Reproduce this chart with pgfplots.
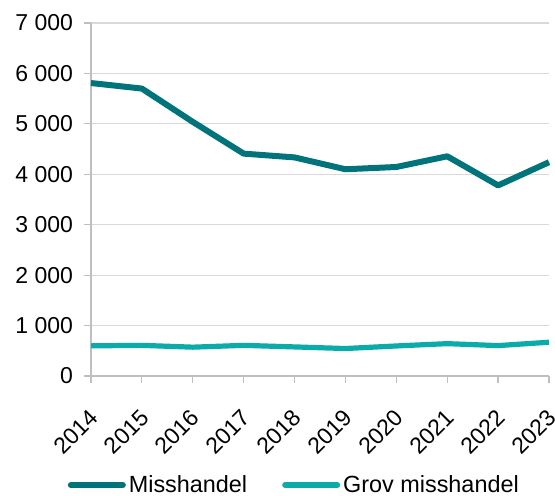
\documentclass[border=0pt]{standalone}
\usepackage{pgfplots}
\pgfplotsset{compat=1.18}
\usepackage{fontspec}
\setmainfont{Liberation Sans}
\definecolor{mish}{HTML}{00747A}
\definecolor{grov}{HTML}{0AABA8}
\definecolor{gridc}{HTML}{D9D9D9}
\definecolor{axc}{HTML}{BFBFBF}
\begin{document}
\begin{tikzpicture}
\useasboundingbox (-45.5pt,-59.5pt) rectangle (232pt,188pt);
\begin{axis}[
  at={(0,0)}, anchor=south west,
  width=229pt, height=176.5pt, scale only axis,
  xmin=2014, xmax=2023,
  ymin=0, ymax=7000,
  xtick={2014,...,2023},
  ytick={0,1000,...,7000},
  font=\fontsize{11.5pt}{13pt}\selectfont,
  /pgf/number format/assume math mode=true,
  % shifts act in the rotated frame
  x tick label style={/pgf/number format/1000 sep={}, rotate=45, anchor=east, xshift=-8.7pt, yshift=-11.8pt, inner sep=1pt},
  y tick label style={/pgf/number format/1000 sep={\ }, xshift=-2pt},
  axis x line*=bottom, axis y line*=left,
  axis line style={axc, line width=0.6pt, -},
  tick style={axc, line width=0.6pt},
  tick align=outside, major tick length=3.5pt,
  ymajorgrids, grid style={gridc, line width=0.6pt},
  legend columns=2,
  legend style={draw=none, at={(0.445,-0.309)}, anchor=center, font=\fontsize{11.7pt}{13pt}\selectfont,
    /tikz/every even column/.append style={column sep=16pt}, inner sep=0pt,
    nodes={inner sep=1.5pt}},
  legend cell align=left,
  legend image code/.code={\draw[#1, line width=3pt, line cap=round] (0pt,0pt) -- (26pt,0pt);},
  clip=false,
]
\addplot[mish, line width=3pt, line join=round] coordinates {
  (2014,5810) (2015,5700) (2016,5040) (2017,4410) (2018,4335)
  (2019,4100) (2020,4145) (2021,4357) (2022,3780) (2023,4240)
};
\addlegendentry{Misshandel}
\addplot[grov, line width=2.6pt, line join=round] coordinates {
  (2014,598) (2015,608) (2016,572) (2017,608) (2018,577)
  (2019,545) (2020,596) (2021,642) (2022,603) (2023,670)
};
\addlegendentry{Grov misshandel}
\end{axis}
\end{tikzpicture}
\end{document}
